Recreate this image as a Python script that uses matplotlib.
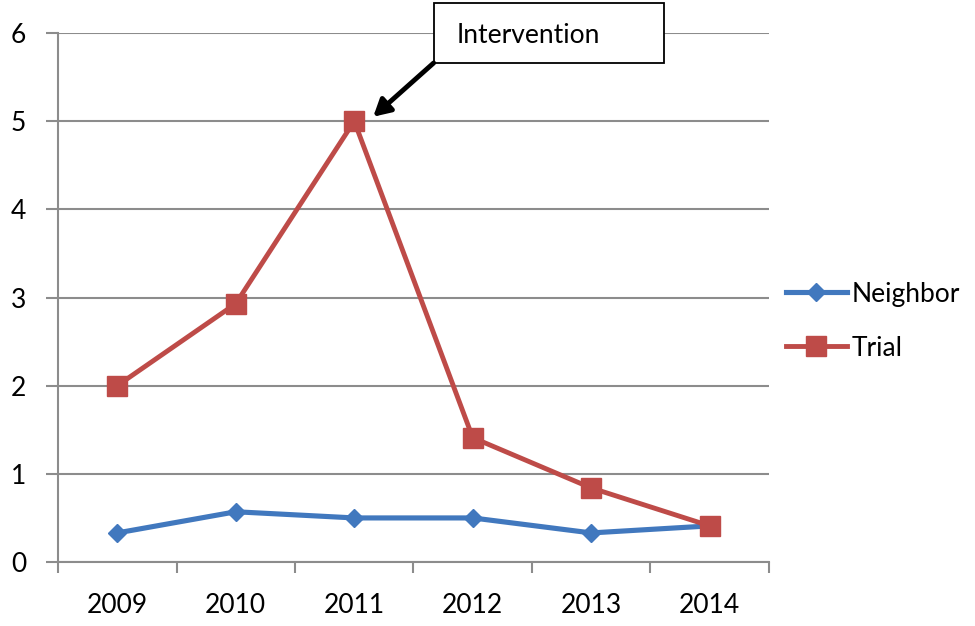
import numpy as np
import matplotlib.pyplot as plt
from matplotlib.patches import Rectangle

# data
years = ['2009', '2010', '2011', '2012', '2013', '2014']
neighbor = [0.33, 0.57, 0.50, 0.50, 0.33, 0.41]
trial = [2.0, 2.93, 5.0, 1.41, 0.84, 0.41]

c_blue = '#4178BE'
c_red = '#BE4B48'
c_grid = '#8C8C8C'

plt.rcParams['font.family'] = ['Lato', 'DejaVu Sans']

fig = plt.figure(figsize=(9.75, 6.26), dpi=100)
ax = fig.add_axes([0.0595, 0.1022, 0.7292, 0.8451])

x = np.arange(len(years))
ax.plot(x, neighbor, color=c_blue, lw=3.7, marker='D', ms=9.5, label='Neighbor', zorder=3)
ax.plot(x, trial, color=c_red, lw=3.5, marker='s', ms=15, label='Trial', zorder=4)

ax.set_xlim(-0.5, 5.5)
ax.set_ylim(0, 6)
ax.set_yticks(range(7))
ax.set_xticks(x)
ax.set_xticklabels(years)
ax.set_xticks(np.arange(-0.5, 6, 1), minor=True)
ax.tick_params(axis='x', which='major', length=0, pad=22, labelsize=19)
ax.tick_params(axis='x', which='minor', length=8, width=1.5, color=c_grid, direction='out')
ax.tick_params(axis='y', length=9, width=1.5, color=c_grid, pad=14, labelsize=19)

ax.grid(axis='y', color=c_grid, lw=1.5)
ax.set_axisbelow(True)
for s in ['top', 'right']:
    ax.spines[s].set_visible(False)
for s in ['left', 'bottom']:
    ax.spines[s].set_color(c_grid)
    ax.spines[s].set_linewidth(1.5)

# callout box with arrow
box = Rectangle((2.67, 5.66), 1.94, 0.68, fc='white', ec='black', lw=1.3,
                clip_on=False, zorder=6)
ax.add_patch(box)
ax.text(3.47, 5.97, 'Intervention', fontsize=19, ha='center', va='center', zorder=7)
ax.annotate('', xy=(2.16, 5.05), xytext=(2.67, 5.66),
            arrowprops=dict(arrowstyle='-|>,head_length=1.0,head_width=0.55', color='black',
                            lw=3.5, shrinkA=0, shrinkB=0),
            zorder=6)

fig.legend(loc='center left', bbox_to_anchor=(0.806, 0.487), frameon=False,
           fontsize=19, handlelength=2.3, labelspacing=1.1, handletextpad=0.2,
           borderpad=0, borderaxespad=0)

fig.savefig('out.png', dpi=100)
